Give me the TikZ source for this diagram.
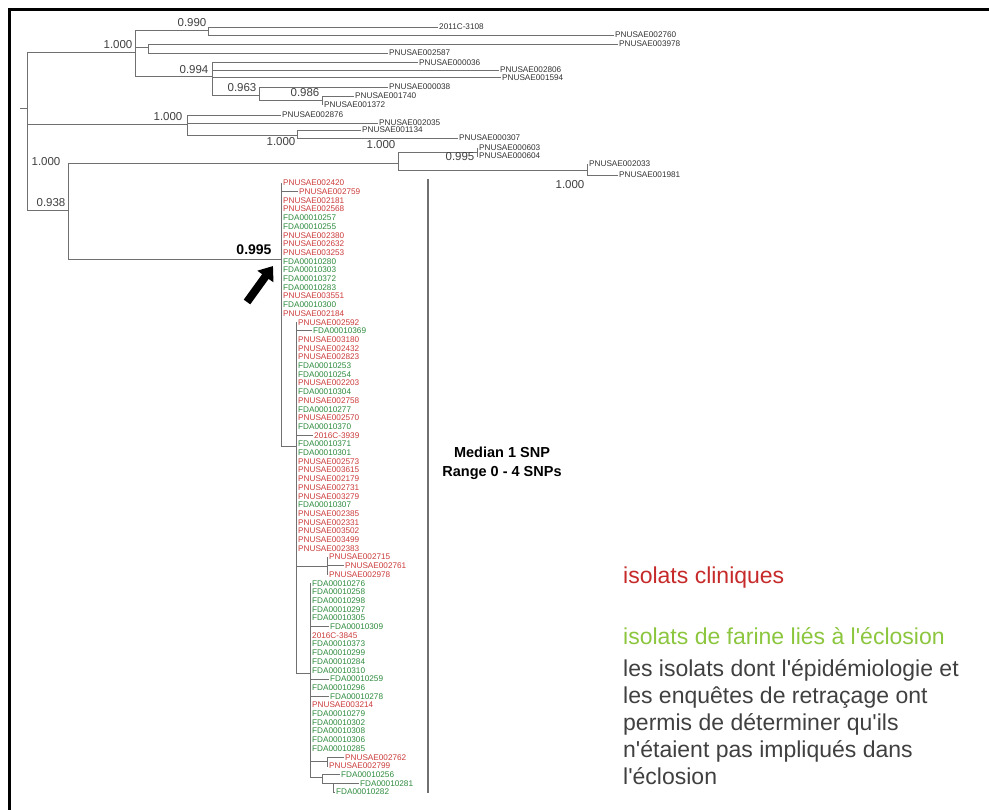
\documentclass[tikz,border=0pt]{standalone}
\usepackage{fontspec}
\setmainfont{Liberation Sans}[Ligatures=TeXOff]
\usetikzlibrary{arrows.meta}
\definecolor{rouge}{HTML}{CC3B3B}
\definecolor{vert}{HTML}{2E8B3E}
\definecolor{vertclair}{HTML}{8CC63E}
\definecolor{rougelegende}{HTML}{C62A2A}
\definecolor{gristexte}{HTML}{404040}
\definecolor{grisarbre}{HTML}{707070}
\tikzset{
	every node/.style={
		font=\fontsize{8}{8}\selectfont
	},
	taxon/.style={
		anchor=west,
		inner sep=1pt,
		text=black!80,
		font=\fontsize{8.2}{8}\selectfont
	},
	appui/.style={
		inner sep=0pt,
		text=black!75,
		font=\fontsize{11.5}{11.5}\selectfont
	},
	branche/.style={
		draw=grisarbre,
		line width=0.8pt
	},
	legende/.style={
		anchor=west,
		inner sep=0pt,
		align=left,
		font=\fontsize{23}{27}\selectfont
	}
}

\begin{document}
\begin{tikzpicture}[x=1pt,y=-1pt]
	
	\useasboundingbox (0,0) rectangle (989,810);
	\draw[line width=2.5pt] (989,9.5) -- (9.5,9.5) -- (9.5,810);
	
	\coordinate (pied) at (20,108);
	\coordinate (racine) at (27,108);
	\coordinate (n1) at (135,52);
	\coordinate (n2) at (208,30);
	\coordinate (n3) at (148,47);
	\coordinate (n4) at (212,76);
	\coordinate (n5) at (259,95);
	\coordinate (n6) at (322,100);
	\coordinate (n7) at (187,124);
	\coordinate (n8) at (297,135);
	\coordinate (n9) at (68,210);
	\coordinate (n10) at (398,163);
	\coordinate (n11) at (477,152);
	\coordinate (n12) at (587,170);
	\coordinate (n13) at (281,259);
	\coordinate (n14) at (296,446);
	\coordinate (n15) at (327,566);
	\coordinate (n16) at (310,673);
	\coordinate (n17) at (327,761);
	\coordinate (n18) at (322,777);
	\coordinate (n19) at (333,783);
	
	\draw[branche] (pied) -- (racine);
	\draw[branche] (racine) |- (n1);
	\draw[branche] (racine) |- (n7);
	\draw[branche] (racine) |- (n9);
	\draw[branche] (n1) |- (n2);
	\draw[branche] (n1) |- (n3);
	\draw[branche] (n1) |- (n4);
	\draw[branche] (n4) |- (n5);
	\draw[branche] (n5) |- (n6);
	\draw[branche] (n7) |- (n8);
	\draw[branche] (n9) |- (n10);
	\draw[branche] (n9) |- (n13);
	\draw[branche] (n10) |- (n11);
	\draw[branche] (n10) |- (n12);
	\draw[branche] (n13) |- (n14);
	\draw[branche] (n14) |- (n15);
	\draw[branche] (n14) |- (n16);
	\draw[branche] (n16) |- (n17);
	\draw[branche] (n16) |- (n18);
	\draw[branche] (n18) |- (n19);
	
	\foreach \nom/\x/\y/\pere in {
		2011C-3108/438/27/n2,
		PNUSAE002760/614/35/n2,
		PNUSAE003978/618/44/n3,
		PNUSAE002587/388/53/n3,
		PNUSAE000036/418/62.5/n4,
		PNUSAE002806/499/70/n4,
		PNUSAE001594/501/77.5/n4,
		PNUSAE000038/388/87/n5,
		PNUSAE001740/354/96/n6,
		PNUSAE001372/323/104.5/n6,
		PNUSAE002876/281/115/n7,
		PNUSAE002035/378/123/n7,
		PNUSAE001134/361/130/n8,
		PNUSAE000307/458/138/n8,
		PNUSAE000603/478/148/n11,
		PNUSAE000604/478/156/n11,
		PNUSAE002033/588/164/n12,
		PNUSAE001981/618/175/n12%
	} {
		\node[taxon] (t\nom) at (\x,\y) {\nom};
		\draw[branche] (\pere) |- (t\nom.west);
	}
	
	\foreach \nom/\coul/\x/\pere [count=\i] in {
		PNUSAE002420/rouge/282/n13,
		PNUSAE002759/rouge/298/n13,
		PNUSAE002181/rouge/282/n13,
		PNUSAE002568/rouge/282/n13,
		FDA00010257/vert/282/n13,
		FDA00010255/vert/282/n13,
		PNUSAE002380/rouge/282/n13,
		PNUSAE002632/rouge/282/n13,
		PNUSAE003253/rouge/282/n13,
		FDA00010280/vert/282/n13,
		FDA00010303/vert/282/n13,
		FDA00010372/vert/282/n13,
		FDA00010283/vert/282/n13,
		PNUSAE003551/rouge/282/n13,
		FDA00010300/vert/282/n13,
		PNUSAE002184/rouge/282/n13,
		PNUSAE002592/rouge/297/n14,
		FDA00010369/vert/312/n14,
		PNUSAE003180/rouge/297/n14,
		PNUSAE002432/rouge/297/n14,
		PNUSAE002823/rouge/297/n14,
		FDA00010253/vert/297/n14,
		FDA00010254/vert/297/n14,
		PNUSAE002203/rouge/297/n14,
		FDA00010304/vert/297/n14,
		PNUSAE002758/rouge/297/n14,
		FDA00010277/vert/297/n14,
		PNUSAE002570/rouge/297/n14,
		FDA00010370/vert/297/n14,
		2016C-3939/rouge/313/n14,
		FDA00010371/vert/297/n14,
		FDA00010301/vert/297/n14,
		PNUSAE002573/rouge/297/n14,
		PNUSAE003615/rouge/297/n14,
		PNUSAE002179/rouge/297/n14,
		PNUSAE002731/rouge/297/n14,
		PNUSAE003279/rouge/297/n14,
		FDA00010307/vert/297/n14,
		PNUSAE002385/rouge/297/n14,
		PNUSAE002331/rouge/297/n14,
		PNUSAE003502/rouge/297/n14,
		PNUSAE003499/rouge/297/n14,
		PNUSAE002383/rouge/297/n14,
		PNUSAE002715/rouge/328/n15,
		PNUSAE002761/rouge/344/n15,
		PNUSAE002978/rouge/328/n15,
		FDA00010276/vert/311/n16,
		FDA00010258/vert/311/n16,
		FDA00010298/vert/311/n16,
		FDA00010297/vert/311/n16,
		FDA00010305/vert/311/n16,
		FDA00010309/vert/329/n16,
		2016C-3845/rouge/311/n16,
		FDA00010373/vert/311/n16,
		FDA00010299/vert/311/n16,
		FDA00010284/vert/311/n16,
		FDA00010310/vert/311/n16,
		FDA00010259/vert/329/n16,
		FDA00010296/vert/311/n16,
		FDA00010278/vert/329/n16,
		PNUSAE003214/rouge/311/n16,
		FDA00010279/vert/311/n16,
		FDA00010302/vert/311/n16,
		FDA00010308/vert/311/n16,
		FDA00010306/vert/311/n16,
		FDA00010285/vert/311/n16,
		PNUSAE002762/rouge/344/n17,
		PNUSAE002799/rouge/328/n17,
		FDA00010256/vert/340/n18,
		FDA00010281/vert/359/n19,
		FDA00010282/vert/335/n19%
	} {
		\node[taxon, text=\coul] (f\i) at (\x,{183+(\i-1)*8.7}) {\nom};
		\draw[branche] (\pere) |- (f\i.west);
	}
	
	\node[appui] (s1) at (192,23) {0.990};
	\node[appui] (s2) at (118,45) {1.000};
	\node[appui] (s3) at (194,70) {0.994};
	\node[appui] (s4) at (242,88) {0.963};
	\node[appui] (s5) at (305,93) {0.986};
	\node[appui] (s6) at (168,117) {1.000};
	\node[appui] (s7) at (281,142) {1.000};
	\node[appui] (s8) at (46,162) {1.000};
	\node[appui] (s9) at (51,203) {0.938};
	\node[appui] (s10) at (381,145) {1.000};
	\node[appui] (s11) at (460,157) {0.995};
	\node[appui] (s12) at (570,185) {1.000};
	\node[appui, text=black, font=\bfseries\fontsize{14}{14}\selectfont] (s13) at (254,250) {0.995};
	
	\coordinate (queue) at (247,302);
	\coordinate (pointe) at (273,266);
	\draw[line width=8pt, -{Triangle[length=13pt,width=19pt]}] (queue) -- (pointe);
	
	\coordinate (haut) at (428,179);
	\coordinate (bas) at (428,793);
	\draw[grisarbre, line width=1.2pt] (haut) -- (bas);
	
	\node[align=center, font=\bfseries\fontsize{14.5}{19}\selectfont] (mediane) at (502,463) {Median 1 SNP\\Range 0 - 4 SNPs};
	
	\node[legende, text=rougelegende] (cliniques) at (623,578) {isolats cliniques};
	\node[legende, text=vertclair] (farine) at (623,636) {isolats de farine liés à l'éclosion};
	\node[legende, text=gristexte, anchor=north west] (autres) at (623,659) {les isolats dont l'épidémiologie et\\les enquêtes de retraçage ont\\permis de déterminer qu'ils\\n'étaient pas impliqués dans\\l'éclosion};
	
\end{tikzpicture}
\end{document}
